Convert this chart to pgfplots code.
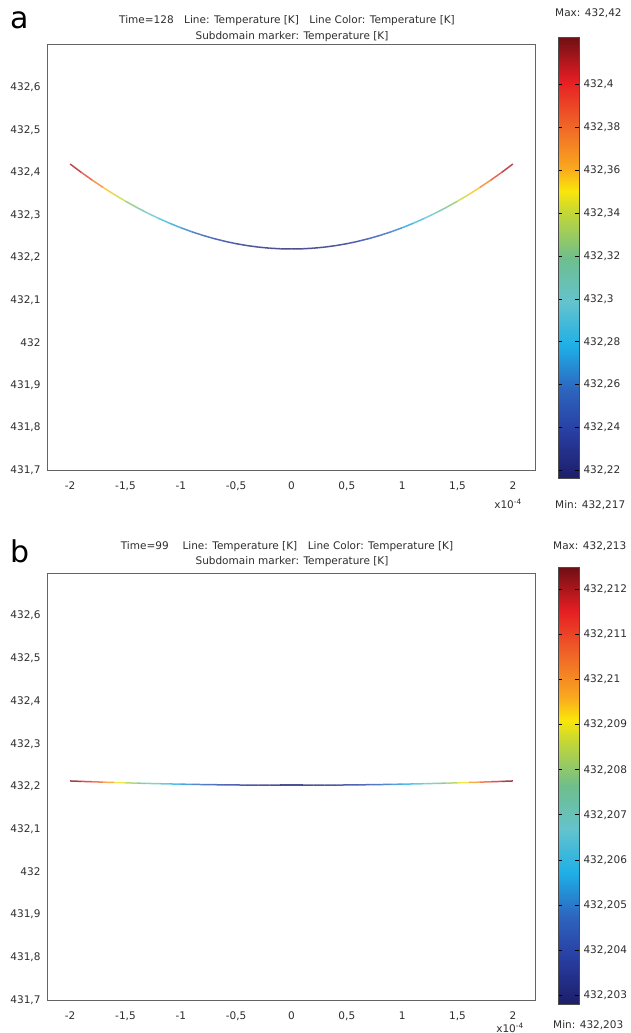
\documentclass[border=0pt]{standalone}
\usepackage{fontspec}
\setmainfont{DejaVu Sans}
\usepackage{pgfplots}
\pgfplotsset{compat=1.18}
\usepackage{pgfplotstable}

\definecolor{axgray}{RGB}{100,100,100}
\definecolor{txt}{RGB}{45,45,45}

\pgfplotsset{
  colormap={comsol}{rgb255(0pt)=(28,30,105); rgb255(2pt)=(40,60,160); rgb255(4pt)=(45,100,190); rgb255(6pt)=(30,175,230); rgb255(8pt)=(100,195,205); rgb255(10pt)=(110,190,140); rgb255(12pt)=(195,215,55); rgb255(13pt)=(250,230,10); rgb255(14pt)=(250,170,30); rgb255(16pt)=(240,100,40); rgb255(18pt)=(230,30,35); rgb255(20pt)=(110,15,20)},
  mainax/.style={
    scale only axis, width=487pt,
    xmin=-2.2, xmax=2.2, ymin=431.7, ymax=432.7,
    xtick={-2,-1.5,-1,-0.5,0,0.5,1,1.5,2},
    ytick={431.7,431.8,431.9,432,432.1,432.2,432.3,432.4,432.5,432.6},
    xticklabels={-2,-1{,}5,-1,-0{,}5,0,0{,}5,1,1{,}5,2},
    yticklabels={431{,}7,431{,}8,431{,}9,432,432{,}1,432{,}2,432{,}3,432{,}4,432{,}5,432{,}6},
    major tick length=0pt,
    axis line style={axgray, line width=1pt},
    ticklabel style={font=\fontsize{10.5}{12}\selectfont, text=txt},
    xticklabel style={yshift=-8pt},
    yticklabel style={xshift=-4pt},
    colormap name=comsol,
  },
  cbarax/.style={
    scale only axis, width=21pt,
    xmin=0, xmax=1, ymin=0, ymax=20, enlargelimits=false, clip=true,
    xtick=\empty, axis on top,
    colormap name=comsol, point meta min=0, point meta max=20,
    axis line style={black!70, line width=0.6pt},
    ytick pos=both, yticklabel pos=right, tick align=inside,
    major tick length=4pt, tick style={black, line width=0.6pt},
    yticklabel style={font=\fontsize{10.5}{12}\selectfont, text=txt, xshift=1pt},
  },
}

% colour-bar knots (colormap positions 0..20)
\pgfplotstableread{
x y
-1 0
2 0

-1 2
2 2

-1 4
2 4

-1 6
2 6

-1 8
2 8

-1 10
2 10

-1 12
2 12

-1 13
2 13

-1 14
2 14

-1 16
2 16

-1 18
2 18

-1 20
2 20
}\cbarknots

\pgfplotstableread{
x y c
-2.0 432.4200 220
-1.9 432.4005 200.5
-1.8 432.3820 182
-1.7 432.3645 164.5
-1.6 432.3480 148
-1.5 432.3325 132.5
-1.4 432.3180 118
-1.3 432.3045 104.5
-1.2 432.2920 92
-1.1 432.2805 80.5
-1.0 432.2700 70
-0.9 432.2605 60.5
-0.8 432.2520 52
-0.7 432.2445 44.5
-0.6 432.2380 38
-0.5 432.2325 32.5
-0.4 432.2280 28
-0.3 432.2245 24.5
-0.2 432.2220 22
-0.1 432.2205 20.5
0.0 432.2200 20
0.1 432.2205 20.5
0.2 432.2220 22
0.3 432.2245 24.5
0.4 432.2280 28
0.5 432.2325 32.5
0.6 432.2380 38
0.7 432.2445 44.5
0.8 432.2520 52
0.9 432.2605 60.5
1.0 432.2700 70
1.1 432.2805 80.5
1.2 432.2920 92
1.3 432.3045 104.5
1.4 432.3180 118
1.5 432.3325 132.5
1.6 432.3480 148
1.7 432.3645 164.5
1.8 432.3820 182
1.9 432.4005 200.5
2.0 432.4200 220
}\dataA

\pgfplotstableread{
x y c
-2.0 432.2130 13.0
-1.9 432.2120 12.025
-1.8 432.2111 11.1
-1.7 432.2102 10.225
-1.6 432.2094 9.4
-1.5 432.2086 8.625
-1.4 432.2079 7.9
-1.3 432.2072 7.225
-1.2 432.2066 6.6
-1.1 432.2060 6.025
-1.0 432.2055 5.5
-0.9 432.2050 5.025
-0.8 432.2046 4.6
-0.7 432.2042 4.225
-0.6 432.2039 3.9
-0.5 432.2036 3.625
-0.4 432.2034 3.4
-0.3 432.2032 3.225
-0.2 432.2031 3.1
-0.1 432.2030 3.025
0.0 432.2030 3.0
0.1 432.2030 3.025
0.2 432.2031 3.1
0.3 432.2032 3.225
0.4 432.2034 3.4
0.5 432.2036 3.625
0.6 432.2039 3.9
0.7 432.2042 4.225
0.8 432.2046 4.6
0.9 432.2050 5.025
1.0 432.2055 5.5
1.1 432.2060 6.025
1.2 432.2066 6.6
1.3 432.2072 7.225
1.4 432.2079 7.9
1.5 432.2086 8.625
1.6 432.2094 9.4
1.7 432.2102 10.225
1.8 432.2111 11.1
1.9 432.2120 12.025
2.0 432.2130 13.0
}\dataB

\begin{document}
\begin{tikzpicture}[x=1pt,y=1pt]
\useasboundingbox (0,0) rectangle (630,-1033);

% ---------- panel a ----------
\begin{axis}[mainax, at={(48pt,-470pt)}, anchor=south west, height=425pt,
  point meta min=16.5, point meta max=222]
\addplot[mesh, line width=1.5pt, opacity=0.8, point meta=explicit] table[x=x, y=y, meta=c] {\dataA};
\end{axis}
\begin{axis}[cbarax, at={(558pt,-37pt)}, anchor=north west, height=441pt,
  ytick={0.3406,2.2871,4.2336,6.1800,8.1265,10.0730,12.0195,13.9659,15.9124,17.8589},
  yticklabels={{432,22},{432,24},{432,26},{432,28},{432,3},{432,32},{432,34},{432,36},{432,38},{432,4}}]
\addplot[surf, shader=interp, point meta=y, mesh/cols=2] table {\cbarknots};
\end{axis}

% ---------- panel b ----------
\begin{axis}[mainax, at={(48pt,-1000pt)}, anchor=south west, height=427pt,
  point meta min=2.8, point meta max=12.5]
\addplot[mesh, line width=1.5pt, opacity=0.8, point meta=explicit] table[x=x, y=y, meta=c] {\dataB};
\end{axis}
\begin{axis}[cbarax, at={(558pt,-567pt)}, anchor=north west, height=437pt,
  ytick={0.4124,2.4742,4.5361,6.5979,8.6598,10.7216,12.7835,14.8454,16.9072,18.9691},
  yticklabels={{432,203},{432,204},{432,205},{432,206},{432,207},{432,208},{432,209},{432,21},{432,211},{432,212}}]
\addplot[surf, shader=interp, point meta=y, mesh/cols=2] table {\cbarknots};
\end{axis}

% ---------- texts ----------
\begin{scope}[every node/.style={text=txt, font=\fontsize{10.5}{12}\selectfont, inner sep=0pt}]
\node[font=\fontsize{30}{30}\selectfont, text=black, anchor=base west] at (10,-29) {a};
\node[font=\fontsize{30}{30}\selectfont, text=black, anchor=base west] at (10,-562) {b};
\node[anchor=base] at (287,-24) {Time=128\quad Line: Temperature [K]\quad Line Color: Temperature [K]};
\node[anchor=base] at (292,-40) {Subdomain marker: Temperature [K]};
\node[anchor=base] at (287,-549) {Time=99\quad\ Line: Temperature [K]\quad Line Color: Temperature [K]};
\node[anchor=base] at (292,-564) {Subdomain marker: Temperature [K]};
\node[anchor=base west] at (555,-17) {Max: 432,42};
\node[anchor=base west] at (555,-508) {Min: 432,217};
\node[anchor=base west] at (553,-549) {Max: 432,213};
\node[anchor=base west] at (553,-1028) {Min: 432,203};
\node[anchor=base] at (508,-508) {x10\textsuperscript{-4}};
\node[anchor=base] at (510,-1032) {x10\textsuperscript{-4}};
\end{scope}
\end{tikzpicture}
\end{document}
